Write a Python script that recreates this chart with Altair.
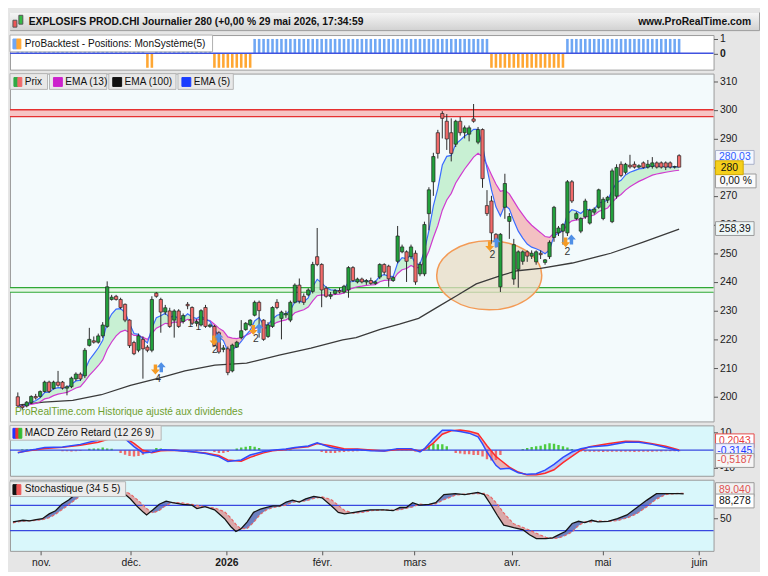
import json
import altair as alt
import pandas as pd

# ---------------- data ----------------
opens = [200, 196.8, 196.8, 197.9, 200.1, 200.1, 201.8, 205.1, 202.9, 205.1,
         205.1, 203, 203.5, 206.2, 207.9, 207.3, 217.9, 219.5, 219, 221.2,
         224.5, 233.9, 235, 233.9, 232.2, 226.7, 218.9, 216.2, 220, 217.3,
         216.2, 236.1, 233.9, 229.5, 229.9, 226.7, 229.9, 226.2, 232.2, 231.1,
         225.6, 225, 231.1, 224.5, 224.5, 222.3, 216.5, 216.7, 209, 217.3,
         220.6, 223.4, 225, 228.4, 232.9, 226.7, 221, 224.5, 232.9, 227.3,
         228.5, 226.7, 232.9, 238.9, 235, 235.5, 236.7, 248.8, 246.1, 237.8,
         235, 236, 237, 236.5, 237.2, 245, 240, 241, 240, 240.5,
         239.5, 241.7, 246.1, 245.5, 240.5, 247.2, 250.5, 250.5, 248.8, 250,
         242.8, 242.8, 263.8, 274.9, 292, 298.7, 296, 292, 288, 296,
         292, 291.5, 296.8, 288.7, 293.1, 266.6, 268.2, 256.6, 238.3, 266,
         261.1, 241, 244.4, 247.2, 250.5, 249, 247, 250, 246.8, 248.8,
         255.5, 257.1, 257.7, 257.1, 274.9, 262.1, 257.7, 262.7, 260.5, 264.3,
         266, 262.1, 268.5, 261, 269.9, 281, 278.2, 280.7, 281, 280,
         281.5, 280, 280.2, 281.5, 281.5, 281.5, 281.5, 280, 284]
highs = [201.5, 197.5, 198.5, 200.5, 201, 202.2, 205.6, 205.6, 205.6, 209,
         205.5, 204, 207, 208.5, 208.5, 217, 224, 221, 222, 226,
         240.2, 235.5, 235.5, 234.5, 232.5, 227, 219.5, 222, 221, 218,
         235, 236.5, 234.5, 232, 231, 230.5, 230.5, 229, 233, 231.5,
         227, 230.5, 232, 225.5, 225, 222.8, 218, 217.5, 218.5, 219.5,
         226.7, 226, 227, 233.5, 233.5, 227, 226, 231.5, 234, 230,
         230, 233.5, 239.5, 241.2, 236, 237.8, 247, 258.8, 246.5, 238.5,
         236.5, 237.5, 238, 239, 245.5, 245.5, 241.5, 241.5, 241, 241.5,
         240.5, 246.5, 246.5, 246, 242, 259.5, 253, 251, 253, 251,
         247, 261, 273, 285, 293, 299.5, 298.5, 297, 296.5, 297.5,
         294.5, 294.5, 302, 294, 293.5, 272, 270, 257, 257, 277.7,
         264, 255, 251, 251, 251, 251, 251, 251, 248, 254.5,
         266.5, 259.5, 260.5, 275.5, 275.5, 264.5, 262.5, 269, 265.5, 266,
         272.5, 269.5, 270, 279.5, 281, 282, 281.5, 284.3, 282, 281,
         282, 282.5, 283.5, 282, 282, 282, 282, 280.5, 284.5]
lows = [196.5, 195.5, 196.3, 197.5, 199, 199.6, 201.5, 201.3, 202.5, 203.5,
        202.5, 200.5, 203, 205.5, 205.5, 206.5, 217.5, 218.5, 218.5, 220.5,
        224, 233.5, 233.5, 230.5, 226, 217, 214.5, 215.5, 206.3, 215.5,
        215.5, 234.5, 222.3, 228.5, 224, 220.6, 224, 225.5, 230.5, 225,
        224.5, 224.5, 224, 224, 217.5, 215, 215.5, 207.5, 208.5, 217,
        220, 223, 224.5, 228, 220.6, 219.5, 220.5, 224, 230.5, 220,
        227.5, 226, 232.5, 232.5, 232, 235, 236, 245.5, 231.2, 234.5,
        234, 235.5, 236, 236, 234.5, 240, 239.5, 239.5, 239, 239,
        239, 241, 242.5, 238.3, 240, 246.5, 250, 240, 248, 239,
        242, 242, 258, 270, 283, 290, 286, 282, 287, 291,
        290, 289, 295.5, 288, 272.8, 263, 253.3, 252, 236.5, 262,
        255, 239, 238, 246, 247, 248, 246, 248, 246, 248,
        254, 256, 253, 256, 267.5, 261.5, 257, 262, 260, 263.5,
        265.5, 261.5, 267.5, 260.5, 269, 276.5, 277.5, 279.5, 279.5, 279.5,
        279.5, 279.5, 279.5, 279.5, 279.5, 279, 279.5, 279.5, 280]
closes = [196.8, 196.2, 198.1, 200.1, 199.6, 201.8, 205.1, 201.8, 205.1, 204,
          203, 203.5, 206.5, 207.9, 206.2, 216.2, 220, 219, 221.2, 225,
          238.3, 234.7, 233.9, 231.1, 226.7, 217.8, 215, 221.2, 216.7, 216.2,
          233.9, 235, 229.5, 231, 224.5, 229.9, 224.5, 228.3, 231.7, 225.6,
          226.2, 230, 224.5, 225, 217.8, 215.6, 217, 208.4, 218, 219,
          223, 225.6, 226.7, 232.9, 230, 220, 225, 231.1, 231.1, 229.5,
          229, 232.9, 238.9, 233.3, 232.9, 237.2, 246.1, 246.1, 237.2, 235,
          235.5, 237, 236.5, 238.5, 245, 240.5, 241, 240, 240.5, 239.5,
          240, 246.1, 243.4, 241.1, 241.5, 256, 252.2, 247.2, 252.2, 240,
          246.1, 260, 272.1, 283.7, 284.8, 297, 289.8, 284.8, 296, 292,
          293.7, 293.7, 296, 293.1, 276, 263.8, 257.1, 254.4, 256.6, 274.3,
          262.8, 253, 250.5, 250.5, 249, 250, 250.5, 249.5, 247.7, 253.8,
          266, 258.8, 260, 274.9, 268.2, 263.8, 262.1, 268.2, 264.9, 265.4,
          272.1, 268.8, 269.5, 278.7, 279.9, 277.1, 281, 280.1, 280, 280.5,
          279.9, 281, 281.5, 280, 280, 280, 280, 280.2, 280]

ema100_idx = [0, 5.8, 12.3, 18.7, 25.2, 31.6, 37.4, 44.1, 51.2, 58.5, 65.6, 72.7, 75.7,
              81.1, 85.4, 89.7, 94.0, 98.3, 102.6, 108.4, 111.8, 117.0, 124.1, 132.7,
              139.8, 148]
ema100_val = [197.1, 198.1, 198.7, 200.7, 204.0, 206.5, 209.0, 211.0, 211.7, 214.5, 216.9,
              219.8, 220.6, 223.5, 225.3, 227.3, 231.3, 235.3, 239.3, 242.4, 243.9, 244.7,
              246.6, 250.0, 253.8, 258.39]

pos_start = [0, 29, 31, 44, 53, 106, 123]
pos_end = [28, 30, 43, 52, 105, 122, 148]
pos_side = [1, -1, 1, -1, 1, -1, 1]

macd_idx = [0, 2, 4, 6, 10, 14, 18, 20, 22, 24, 26, 28, 30, 32, 35, 39, 42, 45, 47, 50,
            52, 55, 57, 60, 62, 65, 67, 70, 73, 76, 79, 82, 85, 88, 90, 91, 93, 95, 97, 99,
            101, 103, 104, 105, 107, 108, 110, 112, 114, 116, 118, 120, 122, 124, 126, 128,
            132, 136, 139, 142, 145, 148]
macd_line = [-1.5, -0.3, 0.5, 1.5, 1.8, 3.3, 5.8, 7.3, 8.5, 6.5, 2.0, -1.5, -1.0, 0.3, 0.0,
             -0.9, -1.8, -3.6, -6.4, -5.5, -2.7, -0.7, 0.0, 0.7, 1.5, 2.4, 4.2, 1.5, 0.2, 0.4,
             -0.3, -0.4, 0.9, 0.9, -0.9, 0.9, 6.4, 11.3, 11.2, 10.5, 9.6, 7.5, 3.6, -1.0, -8.5,
             -10.6, -10.2, -12.7, -13.6, -13.2, -11.2, -8.0, -4.0, -1.0, 0.8, 1.8, 2.7, 4.5,
             4.5, 3.3, 1.5, -0.31]
macd_signal = [-1.3, -0.5, 0.3, 1.0, 1.6, 2.8, 4.5, 6.0, 7.5, 7.0, 3.8, 0.0, -1.4, -0.3, 0.0,
               -0.8, -1.6, -3.0, -5.5, -6.2, -4.0, -1.5, -0.3, 0.4, 1.2, 2.0, 3.8, 2.5, 0.8,
               0.7, 0.1, -0.4, 0.4, 0.6, -0.4, 0.4, 4.0, 9.0, 11.0, 11.4, 10.7, 9.3, 6.0, 2.5,
               -3.5, -5.5, -9.5, -12.3, -14.0, -14.0, -13.0, -11.0, -7.0, -3.5, 0.0, 2.0, 3.6,
               5.0, 4.9, 3.6, 2.2, 0.20]
macd_hist = [0, 0.5, 0.5, 0.4, 0.4, 0, 0, 0, 0, 0,
             -0.6, -0.6, -0.7, -0.6, -0.5, 0, 0.8, 1.0, 1.0, 1.5,
             1.0, 0.8, 0, -1.5, -2.5, -3.2, -3.6, -3.2, -2.5, -1.5,
             0, 1.2, 1.0, 0.6, 0, 0, 0, 0, 0, 0,
             -0.4, -0.4, -0.4, 0, -1.0, -1.5, -1.5, -1.0, 0, 1.0,
             1.5, 2.0, 2.4, 2.0, 1.3, 0, 0, 0, 0.5, 0.7,
             0.7, 0.5, 0, 0, 0, 0, 0, 0, -1.0, -1.5,
             -1.5, -1.5, -1.2, -1.0, -0.7, -0.7, -0.6, -0.5, -0.5, 0,
             0, 0, 0, 0, 0, 1.3, 1.3, 1.0, 0.8, -0.9,
             -0.9, 0, 2.7, 3.6, 3.3, 3.3, 2.2, 0, -1.5, -1.8,
             -2.2, -2.2, -2.7, -2.7, -3.6, -5.1, -5.8, -5.5, -2.7, 0,
             0, 0, 0, 0.7, 1.3, 1.8, 2.2, 2.5, 3.3, 4.0,
             3.6, 2.9, 2.2, 1.5, 0.7, 0, -0.7, -0.8, -0.8, -0.9,
             -0.9, -1.0, -0.9, -0.9, -0.8, -0.8, -0.9, -0.9, -1.0, -0.9,
             -0.9, -0.8, -0.8, -0.7, -0.7, -0.6, -0.6, -0.55, -0.52]

stoch_idx = [0, 1, 2.2, 3.7, 5.1, 6.5, 8, 9.4, 10.8, 12.3, 13.7, 15.1, 17, 19, 21, 23, 24.4,
             25.9, 27.3, 28.8, 29.5, 30.9, 32.3, 33.8, 35.2, 37.4, 39.5, 40.6, 42.4, 44.5,
             46.7, 48.1, 49.2, 50.3, 51.7, 53.1, 54.6, 56, 57.4, 58.9, 60.3, 61.7, 63.2, 64.6,
             66.4, 68.2, 70.3, 71.8, 73.2, 75.3, 77.5, 78.9, 81.8, 83.9, 85.4, 86.8, 88.2,
             89.7, 91.8, 93.3, 95.1, 97.6, 99.7, 102.6, 104, 105.4, 106.9, 108.3, 110.5,
             112.6, 114, 115.5, 117.6, 119.1, 120.5, 121.9, 123.4, 124.8, 126.2, 127.7, 129.1,
             131.3, 133.4, 135.5, 137.7, 139.9, 142, 144.2, 147, 148]
stoch_k = [43.9, 45, 46.5, 45.5, 47.5, 49, 56.6, 61.6, 71.8, 78.4, 87, 92, 95, 96, 96, 94,
           89.5, 80.4, 69.2, 59, 55, 63, 71.8, 76.8, 74.3, 71.8, 70.3, 65, 68, 63, 49, 36.3,
           28.7, 32.8, 44, 59, 64, 66.7, 69.2, 69.2, 75.3, 78.4, 75.3, 80.4, 84.4, 82, 69.2,
           59, 56.6, 59, 61.6, 63, 63, 61.6, 66.7, 66.7, 74.3, 70.3, 71.8, 74.3, 87, 88.5, 87,
           90.5, 87, 71.8, 54, 38.9, 34.8, 31.3, 23.7, 17.6, 17.6, 18.6, 23.7, 28.7, 41.4,
           44.9, 42.9, 46.5, 43.9, 44.9, 49, 55, 66.7, 78.4, 88.5, 88.5, 88.5, 88.3]
stoch_d = [42.5, 43.8, 45, 45.8, 46.3, 47.5, 50.5, 56, 63, 71, 78.5, 86, 91.5, 94.5, 95.8,
           95.5, 93.5, 88, 80, 70, 65, 58, 62, 70, 74.5, 74, 71.5, 70, 67.5, 66, 60, 50, 40,
           33, 33.5, 43, 56, 63, 66.5, 68.5, 70.5, 75, 76.5, 77, 81, 83.5, 79, 70, 62, 57.5,
           59.5, 61.5, 63, 62.5, 63, 65.5, 67.5, 72, 71, 72.5, 79, 86, 88, 88.5, 89, 84, 72,
           58, 41, 35, 31, 26, 19.5, 17.8, 18.5, 22.5, 28, 38, 44, 44, 45.5, 44.5, 46, 50,
           57, 68, 80, 87.5, 89, 89.04]

month_pos = [6.2, 26.0, 47.1, 68.2, 88.6, 110.1, 130.1, 151.4]
month_lbl = ["nov.", "déc.", "2026", "févr.", "mars", "avr.", "mai", "juin"]
price_ticks = [200, 210, 220, 230, 240, 250, 260, 270, 280, 290, 300, 310]

sig_down_idx = [30.8, 43.9, 52.7, 105.6, 122.6]
sig_down_val = [209.5, 219.6, 223.3, 252.5, 253.8]
sig_up_idx = [32.1, 45.0, 54.0, 107.1, 123.9]
sig_up_val = [210.3, 220.6, 223.9, 253.8, 254.8]
sig_lbl_idx = [31.4, 44.1, 53.3, 106.2, 123.0, 38.6, 40.4]
sig_lbl_val = [206.2, 216.3, 220.0, 249.5, 250.5, 225.2, 224.4]
sig_lbl_txt = ["4", "2", "2", "2", "2", "1", "1"]

zone_red = [297.6, 300.0]
zone_green = [236.4, 238.0]
ellipse_idx = [105.5]
ellipse_val = [242.3]

# ---------------- layout / style ----------------
W = 712
HW = 758
H_HEAD = 18
H_BT = 35
H_PR = 352
H_MACD = 51
H_ST = 72
FONT = "Liberation Sans"
XS = alt.Scale(domain=[-0.65, 154.6], nice=False, zero=False)
YP = alt.Scale(domain=[191.4, 312.6], nice=False, zero=False)
YB = alt.Scale(domain=[-1.13, 1.27], nice=False, zero=False)
YM = alt.Scale(domain=[-14.4, 14.0], nice=False, zero=False)
YS = alt.Scale(domain=[-1.9, 110.6], nice=False, zero=False)

ax_common = dict(orient="right", title=None, tickSize=4, labelFont=FONT, labelFontSize=10.5,
                 labelColor="#1a1a1a", tickColor="#555", domain=False, grid=False, labelPadding=2)
AXP = alt.Axis(values=price_ticks, labelExpr="datum.value == 280 ? '' : datum.label", **ax_common)
AXB = alt.Axis(values=[0, 1], labelFontWeight={"condition": {"test": "datum.value == 0", "value": "bold"}, "value": "normal"}, **ax_common)
AXM = alt.Axis(values=[10, -10], labelExpr="'' + datum.value", **ax_common)
AXS = alt.Axis(values=[50], **ax_common)
AXX = alt.Axis(values=month_pos, orient="bottom", title=None, tickSize=4, labelFont=FONT,
               labelFontSize=10.5, labelColor="#1a1a1a", tickColor="#555", domain=False, grid=False,
               labelPadding=3,
               labelExpr=json.dumps(month_lbl, ensure_ascii=False) + "[indexof(" + json.dumps(month_pos) + ", datum.value)]",
               labelFontWeight={"condition": {"test": "datum.value == 47.1", "value": "bold"}, "value": "normal"})
XN = alt.X("x:Q", scale=XS, axis=None)

one = pd.DataFrame({"k": [0]})


def box(x0, x1, y0, y1, fill, stroke=None, sw=1):
    return alt.Chart(one).mark_rect(fill=fill, stroke=stroke or fill, strokeWidth=sw).encode(
        x=alt.value(x0), x2=alt.value(x1), y=alt.value(y0), y2=alt.value(y1))


def label(x, y, txt, size=10.2, color="#111", weight="normal", align="left"):
    return alt.Chart(one).mark_text(text=txt, fontSize=size, color=color, fontWeight=weight,
                                    align=align, baseline="middle", font=FONT).encode(
        x=alt.value(x), y=alt.value(y))


def band(xs, a, b, up_col, dn_col):
    rows, seg, prev = [], 0, None
    for k in range(len(xs)):
        s = a[k] >= b[k]
        if prev is not None and s != prev:
            d0, d1 = a[k - 1] - b[k - 1], a[k] - b[k]
            t = d0 / (d0 - d1)
            xc = xs[k - 1] + t * (xs[k] - xs[k - 1])
            yc = a[k - 1] + t * (a[k] - a[k - 1])
            rows.append((xc, yc, yc, seg, up_col if prev else dn_col))
            seg += 1
            rows.append((xc, yc, yc, seg, up_col if s else dn_col))
        rows.append((xs[k], b[k], a[k], seg, up_col if s else dn_col))
        prev = s
    return pd.DataFrame(rows, columns=["x", "lo", "hi", "seg", "col"])


def ema(vals, span):
    a = 2.0 / (span + 1)
    out, e = [], vals[0]
    for v in vals:
        e = a * v + (1 - a) * e
        out.append(e)
    return out


def value_boxes(rows, yscale, axis, x0=W + 2, x1=W + 41):
    layers = []
    for v, txt, fill, stroke, tc in rows:
        df = pd.DataFrame({"v": [v], "txt": [txt]})
        layers.append(alt.Chart(df).mark_rect(yOffset=-7, y2Offset=7, strokeWidth=1, fill=fill, stroke=stroke).encode(
            x=alt.value(x0), x2=alt.value(x1), y=alt.Y("v:Q", scale=yscale, axis=axis), y2="v:Q"))
        layers.append(alt.Chart(df).mark_text(font=FONT, fontSize=10.5, align="center", baseline="middle", color=tc).encode(
            x=alt.value((x0 + x1) / 2), y=alt.Y("v:Q", scale=yscale, axis=axis), text="txt:N"))
    return layers


n = len(closes)
idx = list(range(n))
e5 = ema(closes, 5)
e13 = ema(closes, 13)

# ---------------- header ----------------
grad = alt.Gradient(gradient="linear", x1=0, x2=0, y1=0, y2=1,
                    stops=[alt.GradientStop(color="#f6f6f6", offset=0),
                           alt.GradientStop(color="#d2d2d2", offset=1)])
header = alt.layer(
    alt.Chart(one).mark_rect(color=grad).encode(x=alt.value(0), x2=alt.value(HW), y=alt.value(0), y2=alt.value(H_HEAD)),
    box(3, 7, 8, 15, "#ee5555", "#555"),
    box(9, 13, 3, 12, "#33bb44", "#555"),
    label(19, 9.5, "EXPLOSIFS PROD.CHI Journalier 280 (+0,00 % 29 mai 2026, 17:34:59", 10.4, "#111", "bold"),
    label(HW - 8, 9.5, "www.ProRealTime.com", 10.4, "#111", "bold", "right"),
).properties(width=HW, height=H_HEAD, view=alt.ViewBackground(stroke="#9a9a9a"))

# ---------------- backtest panel ----------------
bt_i, bt_s, bt_c = [], [], []
for s0, s1, sd in zip(pos_start, pos_end, pos_side):
    for k in range(s0, s1 + 1):
        bt_i.append(k)
        bt_s.append(sd)
        bt_c.append("#6fa7f4" if sd > 0 else "#ffa733")
bt_df = pd.DataFrame({"x": bt_i, "side": bt_s, "col": bt_c})
zero_df = pd.DataFrame({"v": [0.0]})
backtest = alt.layer(
    alt.Chart(bt_df).mark_bar(size=2.6).encode(
        x=XN, y=alt.Y("side:Q", scale=YB, axis=AXB), y2=alt.datum(0),
        color=alt.Color("col:N", scale=None, legend=None)),
    alt.Chart(zero_df).mark_rule(color="#4052e0", strokeWidth=1.5).encode(
        x=alt.value(0), x2=alt.value(W), y=alt.Y("v:Q", scale=YB, axis=AXB)),
    box(0, 205, 0, 17, "#ffffff", "#b0b0b0"),
    box(3, 7, 4, 14, "#6fa7f4"),
    box(7, 11, 4, 14, "#ffa733"),
    label(15, 9, "ProBacktest - Positions: MonSystème(5)"),
).properties(width=W, height=H_BT, view=alt.ViewBackground(fill="#ffffff", stroke="#9a9a9a"))

# ---------------- price panel ----------------
cdf = pd.DataFrame({"x": idx, "o": opens, "h": highs, "l": lows, "c": closes})
cdf["col"] = ["#22a13c" if c >= o else "#f26a6a" for o, c in zip(opens, closes)]
ema_df = pd.DataFrame({"x": idx, "e5": e5, "e13": e13})
e100_df = pd.DataFrame({"x": ema100_idx, "v": ema100_val})
fill_df = band(idx, e5, e13, "#bdeec8", "#f2b3b3")
zr = pd.DataFrame({"lo": [zone_red[0]], "hi": [zone_red[1]]})
zr_l = pd.DataFrame({"v": zone_red})
zg = pd.DataFrame({"lo": [zone_green[0]], "hi": [zone_green[1]]})
zg_l = pd.DataFrame({"v": zone_green})
ell = pd.DataFrame({"x": ellipse_idx, "v": ellipse_val})
dn = pd.DataFrame({"x": sig_down_idx, "v": sig_down_val})
up = pd.DataFrame({"x": sig_up_idx, "v": sig_up_val})
sl = pd.DataFrame({"x": sig_lbl_idx, "v": sig_lbl_val, "t": sig_lbl_txt})

ELL = "M -1,0 A 1,0.657 0 1,0 1,0 A 1,0.657 0 1,0 -1,0 Z"
DOWN = "M -0.35,-1 L 0.35,-1 L 0.35,0 L 0.9,0 L 0,1 L -0.9,0 L -0.35,0 Z"
UP = "M -0.35,1 L 0.35,1 L 0.35,0 L 0.9,0 L 0,-1 L -0.9,0 L -0.35,0 Z"


def py(f):
    return alt.Y(f, scale=YP, axis=AXP)


price_layers = [
    alt.Chart(zr).mark_rect(color="#f6c4c4").encode(x=alt.value(0), x2=alt.value(W), y=py("lo:Q"), y2="hi:Q"),
    alt.Chart(zr_l).mark_rule(color="#e63030", strokeWidth=1.3).encode(x=alt.value(0), x2=alt.value(W), y=py("v:Q")),
    alt.Chart(zg).mark_rect(color="#e6f6e6").encode(x=alt.value(0), x2=alt.value(W), y=py("lo:Q"), y2="hi:Q"),
    alt.Chart(zg_l).mark_rule(color="#2fa836", strokeWidth=1.2).encode(x=alt.value(0), x2=alt.value(W), y=py("v:Q")),
    alt.Chart(ell).mark_point(shape=ELL, size=11300, filled=True, fill="#e8dcc6", fillOpacity=0.75,
                              stroke="#f39a55", strokeWidth=1.5, strokeOpacity=1, opacity=1).encode(x=XN, y=py("v:Q")),
    alt.Chart(fill_df).mark_area(opacity=0.8, clip=True).encode(
        x=XN, y=py("hi:Q"), y2="lo:Q", color=alt.Color("col:N", scale=None, legend=None), detail="seg:N"),
    alt.Chart(e100_df).mark_line(color="#3a3a3a", strokeWidth=1.3, clip=True).encode(x=XN, y=py("v:Q")),
    alt.Chart(ema_df).mark_line(color="#d03ad0", strokeWidth=1.2, clip=True).encode(x=XN, y=py("e13:Q")),
    alt.Chart(ema_df).mark_line(color="#3a6cff", strokeWidth=1.2, clip=True).encode(x=XN, y=py("e5:Q")),
    alt.Chart(cdf).mark_rule(color="#2a2a2a", strokeWidth=1).encode(x=XN, y=py("l:Q"), y2="h:Q"),
    alt.Chart(cdf).mark_bar(size=3.3, stroke="#222", strokeWidth=0.7).encode(
        x=XN, y=py("o:Q"), y2="c:Q", color=alt.Color("col:N", scale=None, legend=None)),
    alt.Chart(dn).mark_point(shape=DOWN, size=100, filled=True, color="#f59b25", opacity=1).encode(x=XN, y=py("v:Q")),
    alt.Chart(up).mark_point(shape=UP, size=100, filled=True, color="#4f8fe6", opacity=1).encode(x=XN, y=py("v:Q")),
    alt.Chart(sl).mark_text(font=FONT, fontSize=10.5, color="#333", baseline="middle").encode(x=XN, y=py("v:Q"), text="t:N"),
    # legend chips
    box(0, 38, 0, 16, "#e8e8e8", "#b5b5b5"),
    box(4, 8, 4, 13, "#2faa44"), box(8, 12, 4, 13, "#f06a6a"),
    label(15, 8.5, "Prix"),
    box(40, 98, 0, 16, "#e8e8e8", "#b5b5b5"),
    box(44, 53, 4, 13, "#cc22cc"),
    label(56, 8.5, "EMA (13)"),
    box(100, 168, 0, 16, "#e8e8e8", "#b5b5b5"),
    box(104, 113, 4, 13, "#111111"),
    label(116, 8.5, "EMA (100)"),
    box(170, 226, 0, 16, "#e8e8e8", "#b5b5b5"),
    box(174, 183, 4, 13, "#1a3dff"),
    label(186, 8.5, "EMA (5)"),
    label(5, H_PR - 9, "ProRealTime.com  Historique ajusté aux dividendes", 10.2, "#6f9f2f"),
]
price_layers += value_boxes([
    (283.4, "280,03", "#f4f7ff", "#a8b0c8", "#2f5cff"),
    (258.6, "258,39", "#eef6f6", "#9a9a9a", "#111111"),
], YP, AXP)
price_layers += value_boxes([(275.2, "0,00 %", "#fafafa", "#9a9a9a", "#111111")], YP, AXP, W + 2, W + 43)
price_layers += value_boxes([(279.8, "280", "#f5d01c", "#d0a800", "#111111")], YP, AXP, W + 2, W + 30)
price = alt.layer(*price_layers).properties(
    width=W, height=H_PR, view=alt.ViewBackground(fill="#f3fafc", stroke="#9a9a9a"))

# ---------------- MACD panel ----------------
hdf = pd.DataFrame({"x": idx, "h": macd_hist})
hdf = hdf[hdf["h"] != 0].copy()
hdf["col"] = ["#4ccc3c" if v > 0 else "#ef6b6b" for v in hdf["h"]]
mdf = pd.DataFrame({"x": macd_idx, "m": macd_line, "s": macd_signal})
mfill = band(macd_idx, macd_line, macd_signal, "#a9b9f2", "#eba6a6")


def my(f):
    return alt.Y(f, scale=YM, axis=AXM)


macd_layers = [
    alt.Chart(mfill).mark_area(opacity=0.85, clip=True).encode(
        x=XN, y=my("hi:Q"), y2="lo:Q", color=alt.Color("col:N", scale=None, legend=None), detail="seg:N"),
    alt.Chart(hdf).mark_bar(size=2.4, clip=True).encode(
        x=XN, y=my("h:Q"), y2=alt.datum(0), color=alt.Color("col:N", scale=None, legend=None)),
    alt.Chart(zero_df).mark_rule(color="#3848e0", strokeWidth=1.3).encode(x=alt.value(0), x2=alt.value(W), y=my("v:Q")),
    alt.Chart(mdf).mark_line(color="#ff2b2b", strokeWidth=1.5, clip=True).encode(x=XN, y=my("s:Q")),
    alt.Chart(mdf).mark_line(color="#2f4bff", strokeWidth=1.5, clip=True).encode(x=XN, y=my("m:Q")),
    box(0, 153, 0, 15, "#ececec", "#b5b5b5"),
    box(3, 6, 3, 13, "#2233ff"), box(6, 9, 3, 13, "#ee3333"), box(9, 12, 3, 13, "#33bb33"),
    label(15, 8, "MACD Zéro Retard (12 26 9)"),
]
macd_layers += value_boxes([
    (5.3, "0,2043", "#ffffff", "#e64a4a", "#e83a3a"),
    (-0.2, "-0,3145", "#eef0ff", "#9aa0c0", "#1d3cff"),
    (-5.8, "-0,5187", "#f6f6f6", "#9a9a9a", "#e05050"),
], YM, AXM)
macd = alt.layer(*macd_layers).properties(
    width=W, height=H_MACD, view=alt.ViewBackground(fill="#d9f7fb", stroke="#9a9a9a"))

# ---------------- Stochastic panel ----------------
sdf = pd.DataFrame({"x": stoch_idx, "k": stoch_k, "d": stoch_d})
sfill = band(stoch_idx, stoch_k, stoch_d, "#5b6cb6", "#d99b9b")
lv = pd.DataFrame({"v": [70.0, 30.0]})
XA = alt.X("x:Q", scale=XS, axis=AXX)


def sy(f):
    return alt.Y(f, scale=YS, axis=AXS)


st_layers = [
    alt.Chart(sfill).mark_area(opacity=0.85, clip=True).encode(
        x=XA, y=sy("hi:Q"), y2="lo:Q", color=alt.Color("col:N", scale=None, legend=None), detail="seg:N"),
    alt.Chart(lv).mark_rule(color="#3848e0", strokeWidth=1.3).encode(x=alt.value(0), x2=alt.value(W), y=sy("v:Q")),
    alt.Chart(sdf).mark_line(color="#e86666", strokeWidth=1.2, strokeDash=[3, 2], clip=True).encode(x=XA, y=sy("d:Q")),
    alt.Chart(sdf).mark_line(color="#151515", strokeWidth=1.3, clip=True).encode(x=XA, y=sy("k:Q")),
    box(0, 117, 2, 17, "#ececec", "#b5b5b5"),
    box(3, 7, 5, 15, "#111111"), box(7, 11, 5, 15, "#ee5555"),
    label(15, 9.5, "Stochastique (34 5 5)"),
]
st_layers += value_boxes([
    (95.0, "89,040", "#f2f2f2", "#9a9a9a", "#e05050"),
    (77.0, "88,278", "#ffffff", "#9a9a9a", "#111111"),
], YS, AXS)
stoch = alt.layer(*st_layers).properties(
    width=W, height=H_ST, view=alt.ViewBackground(fill="#d9f7fb", stroke="#9a9a9a"))

chart = alt.vconcat(header, backtest, price, macd, stoch, spacing=2).resolve_scale(
    x="independent", y="independent").properties(padding=0).configure(background="#e6e6e6")

chart.save("out.html", embed_options={"renderer": "svg", "actions": False})
